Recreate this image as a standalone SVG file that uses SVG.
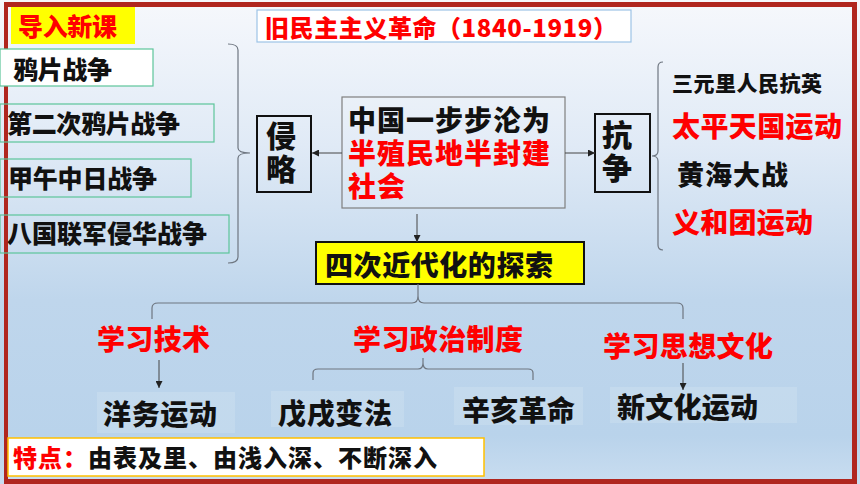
<svg xmlns="http://www.w3.org/2000/svg" width="860" height="484" viewBox="0 0 860 484">
<defs>
<linearGradient id="bg" x1="0" y1="0" x2="0" y2="1">
<stop offset="0" stop-color="#f6f8fc"/>
<stop offset="0.3" stop-color="#e0eaf6"/>
<stop offset="0.62" stop-color="#bfd6ec"/>
<stop offset="0.9" stop-color="#b9d3eb"/>
<stop offset="1" stop-color="#c9ddf0"/>
</linearGradient>
<marker id="ah" viewBox="0 0 10 10" refX="10" refY="5" markerWidth="7" markerHeight="7" markerUnits="userSpaceOnUse" orient="auto">
<path d="M0,0 L10,5 L0,10 z" fill="#222"/>
</marker>
<style>
text{font-family:"Noto Sans CJK SC","Microsoft YaHei",sans-serif;font-weight:900;}
.r{fill:#ff0000;}
.k{fill:#111;}
.gb{fill:none;stroke:#5cc59a;stroke-width:1.2;}
.bb{fill:none;stroke:#111;stroke-width:2;}
.ln{fill:none;stroke:#6e7680;stroke-width:1.2;}
.ar{fill:none;stroke:#444;stroke-width:1;marker-end:url(#ah);}
.soft{fill:#ffffff;opacity:0.14;}
.vt{writing-mode:tb;letter-spacing:3px;}
</style>
</defs>
<rect x="0" y="0" width="860" height="484" fill="url(#bg)"/>
<g id="frame" fill="#b0261f">
<rect x="4" y="2" width="853" height="5"/>
<rect x="4" y="2" width="4" height="482"/>
<rect x="852" y="2" width="5" height="482"/>
<rect x="4" y="479" width="853" height="5"/>
</g>
<g id="intro">
<rect x="11" y="7" width="124" height="37" fill="#ffff00"/>
<text x="18" y="36" font-size="25" class="r" textLength="99">导入新课</text>
</g>
<g id="title">
<rect x="257" y="10" width="374" height="32" fill="#ffffff" stroke="#9dc3e6" stroke-width="1.2"/>
<text x="265" y="37" font-size="24" class="r" textLength="352">旧民主主义革命（1840-1919）</text>
</g>
<g id="war1">
<rect x="0" y="49" width="153" height="37" fill="#ffffff" stroke="#5cc59a" stroke-width="1.2"/>
<text x="13" y="79" font-size="25" class="k" textLength="99">鸦片战争</text>
</g>
<g id="war2">
<rect x="0" y="104" width="214" height="38" class="gb"/>
<text x="7" y="133" font-size="25" class="k" textLength="173">第二次鸦片战争</text>
</g>
<g id="war3">
<rect x="0" y="159" width="191" height="38" class="gb"/>
<text x="8" y="188" font-size="25" class="k" textLength="149">甲午中日战争</text>
</g>
<g id="war4">
<rect x="0" y="215" width="229" height="38" class="gb"/>
<text x="7" y="243" font-size="25" class="k" textLength="200">八国联军侵华战争</text>
</g>
<g id="invade">
<rect x="257" y="116" width="54" height="76" class="bb"/>
<text x="281" y="121" font-size="30" class="k vt">侵略</text>
</g>
<g id="center">
<rect x="342" y="97" width="223" height="111" fill="#ffffff" fill-opacity="0.12" stroke="#7f7f7f" stroke-width="1.2"/>
<text font-size="28" class="k" letter-spacing="1"><tspan x="348" y="131">中国一步步沦为</tspan><tspan x="348" y="164" class="r">半殖民地半封建</tspan><tspan x="348" y="197" class="r">社会</tspan></text>
</g>
<g id="resist">
<rect x="595" y="114" width="55" height="78" class="bb"/>
<text x="617" y="120" font-size="30" class="k vt">抗争</text>
</g>
<g id="resist-list">
<text x="672" y="91" font-size="21" class="k" textLength="150">三元里人民抗英</text>
<text x="672" y="137" font-size="28" class="r" textLength="170">太平天国运动</text>
<text x="677" y="185" font-size="27" class="k" textLength="111">黄海大战</text>
<text x="672" y="233" font-size="28" class="r" textLength="141">义和团运动</text>
</g>
<g id="explore">
<rect x="316" y="242" width="268" height="42" fill="#ffff00" stroke="#111" stroke-width="2"/>
<text x="325" y="276" font-size="28" class="k" textLength="228">四次近代化的探索</text>
</g>
<g id="tech">
<text x="97" y="350" font-size="28" class="r" textLength="113">学习技术</text>
</g>
<g id="politics">
<text x="353" y="350" font-size="28" class="r" textLength="170">学习政治制度</text>
</g>
<g id="culture">
<text x="603" y="357" font-size="28" class="r" textLength="170">学习思想文化</text>
</g>
<g id="yangwu">
<rect x="97" y="392" width="138" height="41" class="soft"/>
<text x="103" y="425" font-size="28" class="k" textLength="114">洋务运动</text>
</g>
<g id="wuxu">
<rect x="271" y="391" width="133" height="36" class="soft"/>
<text x="278" y="424" font-size="28" class="k" textLength="114">戊戌变法</text>
</g>
<g id="xinhai">
<rect x="454" y="387" width="129" height="38" class="soft"/>
<text x="462" y="421" font-size="28" class="k" textLength="113">辛亥革命</text>
</g>
<g id="xinwenhua">
<rect x="610" y="387" width="187" height="36" class="soft"/>
<text x="617" y="418" font-size="28" class="k" textLength="141">新文化运动</text>
</g>
<g id="feature">
<rect x="8" y="438" width="476" height="38" fill="#ffffff" stroke="#ffc000" stroke-width="1.5"/>
<text x="13" y="467" font-size="24" textLength="424"><tspan class="r">特点：</tspan><tspan class="k">由表及里、由浅入深、不断深入</tspan></text>
</g>
<g id="connectors">
<path class="ln" d="M228,44 Q238,44 238,50 L238,148 Q238,153 250,153 Q238,153 238,158 L238,257 Q238,263 228,263"/>
<path class="ln" d="M663,62 Q658,62 658,67 L658,151 Q658,156 652,156 Q658,156 658,161 L658,245 Q658,250 663,250"/>
<path class="ar" d="M342,153 L312,153"/>
<path class="ar" d="M565,153 L595,153"/>
<path class="ar" d="M417,214 L417,242"/>
<path class="ln" d="M418,284 L418,296"/>
<path class="ln" d="M152,319 L152,308 Q152,303 158,303 L412,303 Q418,303 418,296 Q418,303 424,303 L677,303 Q683,303 683,308 L683,319"/>
<path class="ln" d="M423,358 L423,363"/>
<path class="ln" d="M313,380 L313,373 Q313,369 318,369 L418,369 Q423,369 423,363 Q423,369 428,369 L528,369 Q533,369 533,373 L533,380"/>
<path class="ar" d="M159,360 L159,388"/>
<path class="ar" d="M683,363 L683,390"/>
</g>
</svg>
